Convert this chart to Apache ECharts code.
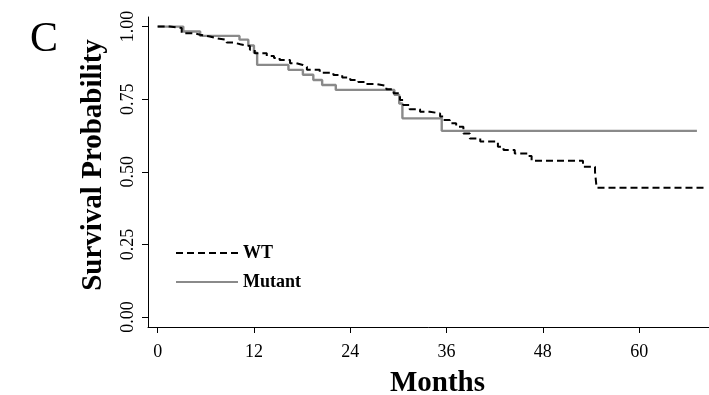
<!DOCTYPE html>
<html>
<head>
<meta charset="utf-8">
<script src="https://cdn.jsdelivr.net/npm/echarts@6/dist/echarts.min.js"></script>
<style>
  html, body { margin: 0; padding: 0; background: #fff; }
  #chart { width: 709px; height: 395px; }
</style>
</head>
<body>
<div id="chart"></div>
<script>
// Kaplan-Meier step points: month of the drop, survival after the drop
var wtMonths = [0, 1.5, 3.0, 4.5, 5.3, 6.5, 7.3, 8.6, 9.5, 10.3, 11.5, 12.1, 13.6, 14.5, 15.2,
  16.5, 17.3, 18.1, 18.6, 20.2, 21.9, 23.0, 24.0, 25.0, 26.0, 27.3, 28.5, 29.4, 30.2, 30.6,
  31.4, 32.7, 33.9, 35.2, 35.6, 36.4, 37.2, 38.1, 38.9, 40.2, 42.4, 43.1, 44.5, 46.2, 46.6,
  53.0, 54.5, 54.7, 68.4];
var wtSurv = [1.0, 0.995, 0.977, 0.972, 0.966, 0.960, 0.954, 0.945, 0.939, 0.933, 0.920, 0.908,
  0.899, 0.892, 0.885, 0.874, 0.868, 0.862, 0.851, 0.841, 0.833, 0.825, 0.816, 0.809, 0.802,
  0.796, 0.784, 0.770, 0.747, 0.730, 0.715, 0.707, 0.701, 0.690, 0.678, 0.667, 0.655, 0.632,
  0.615, 0.604, 0.586, 0.575, 0.563, 0.554, 0.538, 0.517, 0.500, 0.445, 0.445];

var mutMonths = [0, 3.2, 5.3, 10.2, 11.3, 12.0, 12.4, 16.3, 18.1, 19.4, 20.5, 22.2, 29.5, 30.1,
  30.5, 35.4, 67.2];
var mutSurv = [1.0, 0.983, 0.968, 0.955, 0.935, 0.910, 0.868, 0.851, 0.834, 0.816, 0.799, 0.782,
  0.765, 0.735, 0.684, 0.641, 0.641];

var xTicks = [0, 12, 24, 36, 48, 60];
var yTicks = [0, 0.25, 0.5, 0.75, 1];

function pairs(xs, ys) {
  return xs.map(function (x, i) { return [x, ys[i]]; });
}

var chart = echarts.init(document.getElementById("chart"));
var serif = "Liberation Serif";

var option = {
  animation: false,
  grid: { left: 148, right: -12, top: 17, bottom: 68, outerBoundsMode: "none" },
  graphic: [
    {
      type: "text", left: 30, top: 19,
      style: { text: "C", font: "42px 'Liberation Serif'", fill: "#000" }
    }
  ],
  legend: {
    orient: "vertical",
    left: 170,
    top: 239,
    itemWidth: 62,
    itemHeight: 14,
    itemGap: 11,
    itemStyle: { opacity: 0 },
    textStyle: { fontFamily: serif, fontWeight: "bold", fontSize: 18, color: "#000" },
    data: ["WT", "Mutant"]
  },
  xAxis: {
    type: "value",
    min: -1.2,
    max: 70.2,
    name: "Months",
    nameLocation: "middle",
    nameGap: 42,
    nameTextStyle: { fontFamily: serif, fontWeight: "bold", fontSize: 29, color: "#000", padding: [0, 0, 0, 6] },
    axisLine: { onZero: false, lineStyle: { color: "#000", width: 1 } },
    axisTick: { show: true, length: 6, customValues: xTicks, lineStyle: { color: "#000" } },
    axisLabel: { customValues: xTicks, margin: 16, fontFamily: serif, fontSize: 18, color: "#000" },
    splitLine: { show: false }
  },
  yAxis: {
    type: "value",
    min: -0.0345,
    max: 1.033,
    name: "Survival Probability",
    nameLocation: "middle",
    nameGap: 40,
    nameTextStyle: { fontFamily: serif, fontWeight: "bold", fontSize: 29, color: "#000", padding: [0, 0, 0, 14] },
    axisLine: { show: true, onZero: false, lineStyle: { color: "#000", width: 1 } },
    axisTick: { show: true, length: 6, customValues: yTicks, lineStyle: { color: "#000" } },
    axisLabel: {
      customValues: yTicks, rotate: 90, margin: 11,
      fontFamily: serif, fontSize: 18, color: "#000",
      formatter: function (v) { return v.toFixed(2); }
    },
    splitLine: { show: false }
  },
  series: [
    {
      name: "WT",
      type: "line",
      step: "end",
      symbol: "none",
      data: pairs(wtMonths, wtSurv),
      lineStyle: { color: "#000", width: 2, type: [7, 4] },
      itemStyle: { color: "#000" },
      z: 3
    },
    {
      name: "Mutant",
      type: "line",
      step: "end",
      symbol: "none",
      data: pairs(mutMonths, mutSurv),
      lineStyle: { color: "#8a8a8a", width: 2.4 },
      itemStyle: { color: "#8a8a8a" },
      z: 2
    }
  ]
};

option && chart.setOption(option);
</script>
</body>
</html>
